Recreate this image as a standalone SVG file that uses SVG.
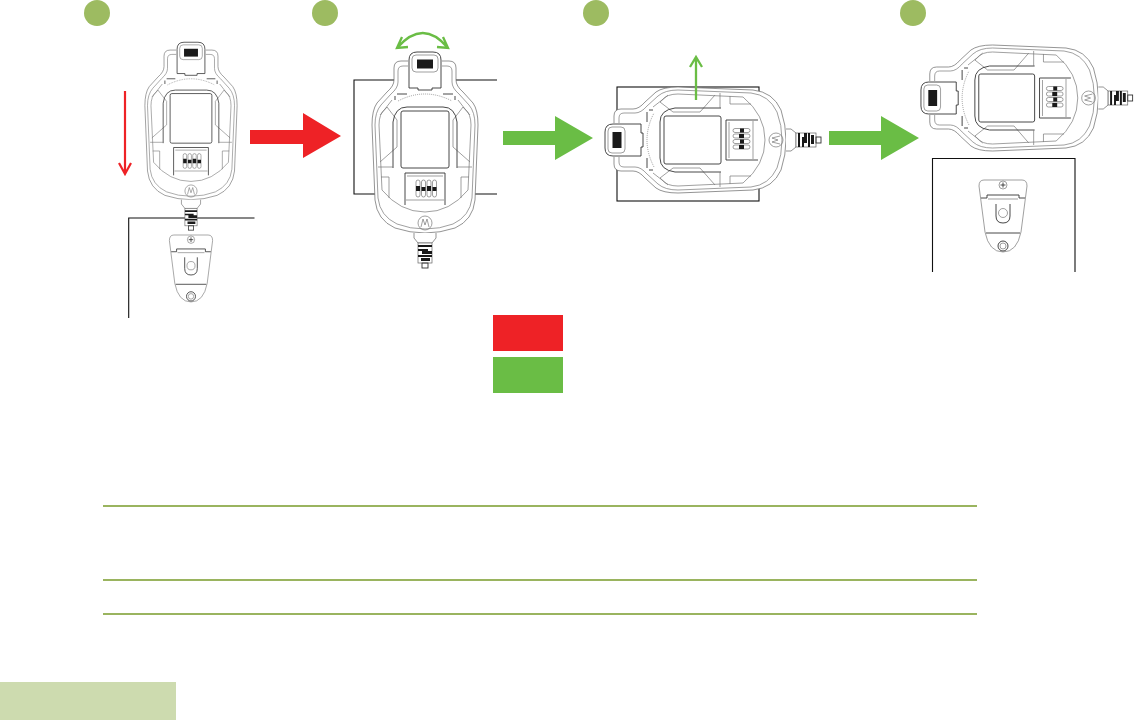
<svg xmlns="http://www.w3.org/2000/svg" xmlns:xlink="http://www.w3.org/1999/xlink" width="1136" height="720" viewBox="0 0 1136 720">
<style>
.t{fill:none;stroke:#777;stroke-width:.7}
.d{fill:none;stroke:#333;stroke-width:.9}
.w{fill:#fff;stroke:#666;stroke-width:.7}
.f{fill:none;stroke:#111;stroke-width:1.1}
.k{fill:#1a1a1a}
.ln{stroke:#9ab45f;stroke-width:2;fill:none}
.dot{fill:#9dbb61}
.r{fill:#ee2226}
.g{fill:#6abd45}
.gs{fill:none;stroke:#6abd45;stroke-width:2.300}
</style>
<defs>
<g id="device">
<path class="w" d="M-17,61H-24Q-31,61-31,68V80Q-31,86-38,92L-48,103Q-53,110-53,125L-50,200Q-48,220-30,228Q-15,233 0,233Q15,233 30,228Q48,220 50,200L53,125Q53,110 48,103L38,92Q31,86 31,80V68Q31,61 24,61H17"/>
<path class="t" d="M-17,66H-22Q-27,66-27,71V82Q-27,88-34,94L-44,105Q-50,112-50,125L-47,198Q-45,216-28,224Q-15,229 0,229Q15,229 28,224Q45,216 47,198L50,125Q50,112 44,105L34,94Q27,88 27,82V71Q27,66 22,66H17"/>
<path class="t" d="M-46,125Q-46,114-40,109L-33,100M46,125Q46,114 40,109L33,100M-46,125L-43,190M46,125L43,190"/>
<path class="t" d="M-45,115L-38,107L-28,120V147L-45,162M45,115L38,107L28,120V147L45,162"/>
<path class="t" stroke-dasharray="1 1" stroke-width="2" d="M-27,101Q0,87 27,101"/>
<path class="d" d="M-30,96V100M30,96V100M-28,94H-18M28,94H18"/>
<path class="d" d="M-32,168V122Q-30,107-18,107H18Q30,107 32,122V168"/>
<path class="t" d="M-47,167H-32M32,167H47M-43,190Q-25,212 0,212Q25,212 43,190M-44,177H-36V198M44,177H36V198"/>
<path class="d" d="M-16,88V60Q-16,52-8,52H8Q16,52 16,60V88M-16,88H-7V90H7V88H16"/>
<rect class="t" x="-13" y="55" width="26" height="17" rx="4"/>
<rect class="k" x="-8" y="59.500" width="16" height="9"/>
<rect class="d" x="-24" y="111" width="48" height="57" rx="2"/>
<path class="d" d="M-20,205V173H20V205"/>
<path class="t" d="M-18,176H18M-19,200H19"/>
<g class="t"><rect x="-9" y="180" width="4" height="17" rx="2"/><rect x="-3.500" y="180" width="4" height="17" rx="2"/><rect x="2" y="180" width="4" height="17" rx="2"/><rect x="7.500" y="180" width="4" height="17" rx="2"/></g>
<path class="k" d="M-9,186h4v5h-4ZM-3.500,187h4v4h-4ZM2,186h4v5h-4ZM7.500,187h4v4h-4Z"/>
<circle class="t" cx="0" cy="223" r="7"/>
<path class="t" d="M-4,227L-2,219L0,225L2,219L4,227"/>
<path class="w" d="M-11,233V238L-7,243H7L11,238V233"/>
<rect class="w" x="-7" y="243" width="14" height="20"/>
<path class="k" d="M-7,245H7V247H-7ZM-7,249H3V251H-7ZM-3,251H7V254H-3ZM-7,255H7V257H-7ZM-4,258H5V261H-4Z"/>
<rect class="d" x="-3" y="263" width="6" height="5" fill="#fff"/>
</g>
<g id="clip">
<path class="t" fill="#fff" d="M-19,0H19Q24,0 24,6L18,52Q14,72 0,72Q-14,72-18,52L-24,6Q-24,0-19,0Z"/>
<path class="d" d="M-22,18H-16V15H16V18H22"/>
<path class="t" d="M-15,19H15"/>
<path class="d" d="M-7,24V36Q-7,43 0,43Q7,43 7,36V24"/>
<circle class="t" cx="0" cy="33" r="4.500"/>
<path class="d" d="M-17,53H17"/>
<circle class="t" cx="0" cy="5" r="4"/>
<path class="d" stroke-width="1.800" d="M-2.500,5H2.500M0,2.500V7.500"/>
<circle class="d" cx="0" cy="66" r="5"/>
<circle class="t" cx="0" cy="66" r="3"/>
</g>
</defs>

<rect x="0" y="682" width="176" height="38" fill="#cddbaf"/>
<path class="ln" d="M103,506H977M103,580H977M103,614H977"/>
<circle class="dot" cx="97" cy="13" r="13"/>
<circle class="dot" cx="325" cy="13" r="13"/>
<circle class="dot" cx="596" cy="13" r="13"/>
<circle class="dot" cx="913" cy="13" r="13"/>

<path class="f" d="M254.500,218H128.700V318"/>
<path class="f" d="M497,80H354V194H497"/>
<rect class="f" x="617" y="87" width="142" height="114"/>
<path class="f" d="M932.500,272V158.500H1075V272"/>

<use xlink:href="#device" href="#device" transform="translate(191,-3) scale(.87)"/>
<use xlink:href="#clip" href="#clip" transform="translate(191,235) scale(.9,.93)"/>
<use xlink:href="#device" href="#device" transform="translate(425,0)"/>
<use xlink:href="#device" href="#device" transform="translate(553,140) rotate(-90)"/>
<use xlink:href="#device" href="#device" transform="translate(870,98) rotate(-90) scale(1,.98)"/>
<use xlink:href="#clip" href="#clip" transform="translate(1003,180)"/>

<path class="r" d="M250,130H303V113L341,136L303,158V144H250Z"/>
<path class="g" d="M503,131H555V116L593,138L555,160V145H503Z"/>
<path class="g" d="M829,131H881V116L919,138L881,160V145H829Z"/>
<rect class="r" x="493" y="315" width="70" height="36"/>
<rect class="g" x="493" y="357" width="70" height="36"/>

<path fill="none" stroke="#ee2226" stroke-width="2.200" d="M125,91V174M119,163L125,174L131,163"/>
<path class="gs" d="M397,48Q423,18 448,48M402,37L397,48L408,47M443,37L448,48L437,47"/>
<path class="gs" d="M696,100V57M690,67L696,57L702,67"/>
</svg>
